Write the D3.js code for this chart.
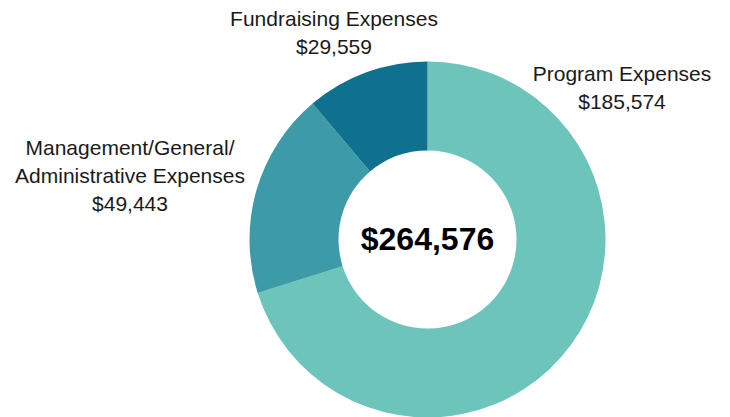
<!DOCTYPE html>
<html>
<head>
<meta charset="utf-8">
<script src="https://cdn.jsdelivr.net/npm/d3@7"></script>
<style>
  html, body { margin: 0; padding: 0; background: #ffffff; }
  svg { display: block; }
  text { font-family: "Liberation Sans", Arial, sans-serif; }
</style>
</head>
<body>
<svg id="chart" width="730" height="417"></svg>
<script>
// Data
const categories = ["Program Expenses", "Management/General/Administrative Expenses", "Fundraising Expenses"];
const labelLines = [["Program Expenses"], ["Management/General/", "Administrative Expenses"], ["Fundraising Expenses"]];
const values = [185574, 49443, 29559];
const totalLabel = "$264,576";

// Layout / style (not data)
const colors = ["#6CC4BA", "#3D9BA7", "#10718E"];
const labelPos = [[622, 80.5], [130, 155], [334, 25.5]];
const W = 730, H = 417;
const cx = 427.5, cy = 239.5, outerR = 178, innerR = 89;
const lineH = 28;

const svg = d3.select("#chart");
const g = svg.append("g").attr("transform", `translate(${cx},${cy})`);

const pie = d3.pie().sort(null).value(d => d)(values);
const arc = d3.arc().innerRadius(innerR).outerRadius(outerR);

g.selectAll("path.slice")
  .data(pie)
  .join("path")
  .attr("class", "slice")
  .attr("d", arc)
  .attr("fill", (d, i) => colors[i]);

g.append("text")
  .attr("x", 0)
  .attr("y", 10)
  .attr("text-anchor", "middle")
  .attr("font-size", 32)
  .attr("font-weight", "bold")
  .attr("fill", "#000")
  .text(totalLabel);

const fmt = d3.format("$,");
const lg = svg.append("g");
categories.forEach((c, i) => {
  const t = lg.append("text")
    .attr("text-anchor", "middle")
    .attr("font-size", 21)
    .attr("fill", "#1a1a1a");
  const lines = labelLines[i].concat([fmt(values[i])]);
  lines.forEach((ln, j) => {
    t.append("tspan")
      .attr("x", labelPos[i][0])
      .attr("y", labelPos[i][1] + j * lineH)
      .text(ln);
  });
});
</script>
</body>
</html>
